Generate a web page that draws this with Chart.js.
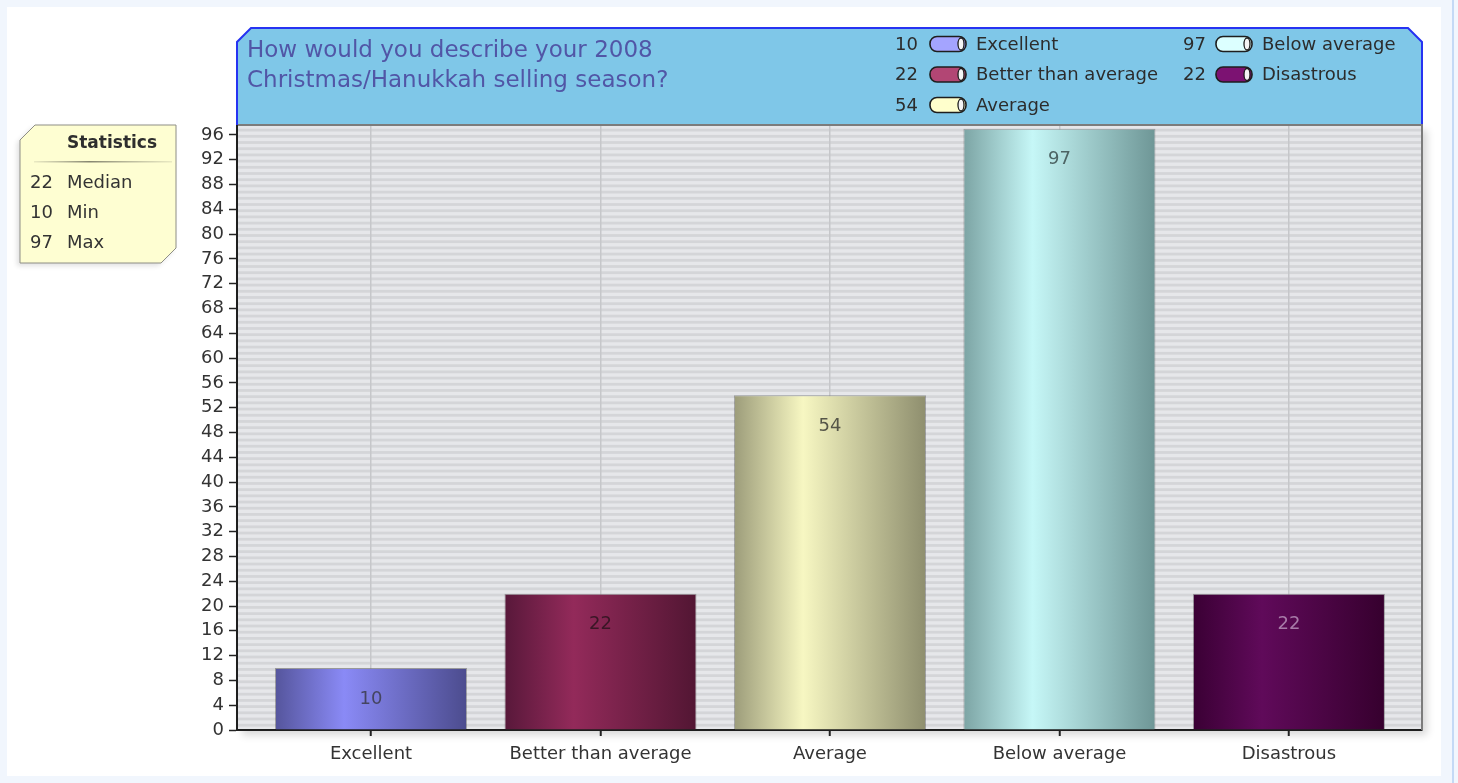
<!DOCTYPE html>
<html>
<head>
<meta charset="utf-8">
<title>2008 holiday selling season</title>
<script src="https://cdn.jsdelivr.net/npm/chart.js@4/dist/chart.umd.min.js"></script>
<style>
  html, body { margin: 0; padding: 0; background: #f1f6fd; }
  #panel { position: absolute; left: 7px; top: 7px; width: 1434px; height: 769px; background: #ffffff; }
  #edge { position: absolute; left: 1452px; top: 0; width: 2px; height: 783px; background: #c4d9f5; }
  #c { position: absolute; left: 0; top: 0; }
</style>
</head>
<body>
<div id="panel"></div>
<div id="edge"></div>
<canvas id="c" width="1458" height="783"></canvas>
<script>
// Survey answers and counts
const categories = ['Excellent', 'Better than average', 'Average', 'Below average', 'Disastrous'];
const responses = [10, 22, 54, 97, 22];
const titleLines = ['How would you describe your 2008', 'Christmas/Hanukkah selling season?'];
const yTicks = [0, 4, 8, 12, 16, 20, 24, 28, 32, 36, 40, 44, 48, 52, 56, 60, 64, 68, 72, 76, 80, 84, 88, 92, 96];
const yMax = 97.6;

// Cylinder shading per bar: [edge, highlight, far edge]
const barShades = [
  ['#55559c', '#8a8af6', '#4c4c8e'],
  ['#58183a', '#932a5a', '#521633'],
  ['#9c9c7a', '#f7f7c2', '#8e8e6e'],
  ['#7ca4a4', '#c6f7f7', '#6e9696'],
  ['#3a0034', '#600a5a', '#36002e']
];
const legendSwatch = ['#a4a4ff', '#b24674', '#ffffcc', '#dcffff', '#7c1272'];
const valueLabelColor = ['#454560', '#3a1626', '#555548', '#4d6464', '#a77aa8'];
const BAR_FRACTION = 0.837;
const FONT = '"DejaVu Sans", Verdana, sans-serif';

function median(arr) {
  const s = [...arr].sort((a, b) => a - b);
  const m = Math.floor(s.length / 2);
  return s.length % 2 ? s[m] : (s[m - 1] + s[m]) / 2;
}

function barGradient(context) {
  const chart = context.chart;
  const shade = barShades[context.dataIndex];
  const xs = chart.scales.x;
  if (!chart.chartArea || !xs) return shade[1];
  const cx = xs.getPixelForValue(context.dataIndex);
  const half = (xs.getPixelForValue(1) - xs.getPixelForValue(0)) * BAR_FRACTION / 2;
  const g = chart.ctx.createLinearGradient(cx - half, 0, cx + half, 0);
  g.addColorStop(0, shade[0]);
  g.addColorStop(0.36, shade[1]);
  g.addColorStop(1, shade[2]);
  return g;
}

function chamferPath(ctx, pts) {
  ctx.beginPath();
  ctx.moveTo(pts[0][0], pts[0][1]);
  for (let i = 1; i < pts.length; i++) ctx.lineTo(pts[i][0], pts[i][1]);
  ctx.closePath();
}

// Striped plot backdrop with a soft drop shadow, and the statistics note
const plotBackdrop = {
  id: 'plotBackdrop',
  beforeDraw(chart) {
    const { ctx, chartArea: a, scales: { y } } = chart;
    ctx.save();
    ctx.shadowColor = 'rgba(0,0,0,0.16)';
    ctx.shadowBlur = 8;
    ctx.shadowOffsetX = 5;
    ctx.shadowOffsetY = 5;
    ctx.fillStyle = '#d4d5d8';
    ctx.fillRect(a.left, a.top, a.width, a.height);
    ctx.restore();

    ctx.save();
    ctx.beginPath();
    ctx.rect(a.left, a.top, a.width, a.height);
    ctx.clip();
    ctx.fillStyle = '#e6e7ea';
    for (let v = 0; v < y.max; v += 1) {
      const lo = y.getPixelForValue(v);
      const hi = y.getPixelForValue(v + 0.55);
      ctx.fillRect(a.left, hi, a.width, lo - hi);
    }
    ctx.restore();

    const bx0 = 20, by0 = 125, bx1 = 176, by1 = 263, c = 15;
    const outline = [[bx0 + c, by0], [bx1, by0], [bx1, by1 - c], [bx1 - c, by1], [bx0, by1], [bx0, by0 + c]];
    ctx.save();
    ctx.shadowColor = 'rgba(0,0,0,0.12)';
    ctx.shadowBlur = 5;
    ctx.shadowOffsetX = -3;
    ctx.shadowOffsetY = 3;
    chamferPath(ctx, outline);
    ctx.fillStyle = '#fefed2';
    ctx.fill();
    ctx.restore();
    ctx.save();
    chamferPath(ctx, outline);
    ctx.strokeStyle = '#8e8e86';
    ctx.lineWidth = 1;
    ctx.stroke();

    ctx.fillStyle = '#2e2e2e';
    ctx.font = 'bold 17px ' + FONT;
    ctx.textBaseline = 'alphabetic';
    ctx.textAlign = 'left';
    ctx.fillText('Statistics', 67, 148);
    const sep = ctx.createLinearGradient(34, 0, 172, 0);
    sep.addColorStop(0, 'rgba(150,150,130,0.2)');
    sep.addColorStop(0.4, 'rgba(120,120,100,0.9)');
    sep.addColorStop(1, 'rgba(150,150,130,0.2)');
    ctx.fillStyle = sep;
    ctx.fillRect(34, 161, 138, 1.5);

    const stats = [[median(responses), 'Median'], [Math.min(...responses), 'Min'], [Math.max(...responses), 'Max']];
    ctx.font = '18px ' + FONT;
    stats.forEach((s, i) => {
      const base = 187.5 + i * 30;
      ctx.fillStyle = '#333333';
      ctx.textAlign = 'right';
      ctx.fillText(String(s[0]), 53, base);
      ctx.textAlign = 'left';
      ctx.fillText(s[1], 67, base);
    });
    ctx.restore();
  }
};

// Values printed inside each bar
const barValues = {
  id: 'barValues',
  afterDatasetsDraw(chart) {
    const { ctx } = chart;
    const meta = chart.getDatasetMeta(0);
    ctx.save();
    ctx.font = '18px ' + FONT;
    ctx.textAlign = 'center';
    ctx.textBaseline = 'middle';
    meta.data.forEach((el, i) => {
      ctx.fillStyle = valueLabelColor[i];
      ctx.fillText(String(responses[i]), el.x, el.y + 31);
    });
    ctx.restore();
  }
};

function drawSwatch(ctx, x, cy, color) {
  const w = 36, h = 15, r = 7;
  ctx.save();
  ctx.beginPath();
  ctx.roundRect(x, cy - h / 2, w, h, r);
  ctx.fillStyle = color;
  ctx.fill();
  ctx.lineWidth = 1.6;
  ctx.strokeStyle = '#1e1e1e';
  ctx.stroke();
  ctx.beginPath();
  ctx.ellipse(x + w - 5, cy, 3, h / 2 - 1.5, 0, 0, Math.PI * 2);
  ctx.fillStyle = '#f4f4f4';
  ctx.fill();
  ctx.lineWidth = 1.3;
  ctx.stroke();
  ctx.restore();
}

// Header band: question text and legend, plus frame lines of the plot
const headerBand = {
  id: 'headerBand',
  afterDraw(chart) {
    const { ctx, chartArea: a } = chart;
    const L = a.left, R = a.right, T = 28, B = a.top, c = 14;
    ctx.save();
    chamferPath(ctx, [[L, B], [L, T + c], [L + c, T], [R - c, T], [R, T + c], [R, B]]);
    ctx.fillStyle = '#7fc7e8';
    ctx.fill();
    ctx.beginPath();
    ctx.moveTo(L, B); ctx.lineTo(L, T + c); ctx.lineTo(L + c, T);
    ctx.lineTo(R - c, T); ctx.lineTo(R, T + c); ctx.lineTo(R, B);
    ctx.strokeStyle = '#2633f2';
    ctx.lineWidth = 2;
    ctx.stroke();

    ctx.fillStyle = '#5156a6';
    ctx.font = '23px ' + FONT;
    ctx.textAlign = 'left';
    ctx.textBaseline = 'alphabetic';
    titleLines.forEach((t, i) => ctx.fillText(t, 247, 56.5 + i * 30));

    ctx.font = '18px ' + FONT;
    const cols = [{ num: 918, sw: 930, txt: 976 }, { num: 1206, sw: 1216, txt: 1262 }];
    categories.forEach((name, i) => {
      const col = cols[i < 3 ? 0 : 1];
      const row = i < 3 ? i : i - 3;
      const cy = 44 + row * 30.5;
      ctx.fillStyle = '#2c2c2c';
      ctx.textAlign = 'right';
      ctx.textBaseline = 'middle';
      ctx.fillText(String(responses[i]), col.num, cy + 1);
      drawSwatch(ctx, col.sw, cy, legendSwatch[i]);
      ctx.fillStyle = '#2c2c2c';
      ctx.textAlign = 'left';
      ctx.fillText(name, col.txt, cy + 1);
    });

    ctx.strokeStyle = '#7c7c7c';
    ctx.lineWidth = 2;
    ctx.beginPath();
    ctx.moveTo(L + 1, B); ctx.lineTo(R, B); ctx.lineTo(R, a.bottom);
    ctx.stroke();
    ctx.restore();
  }
};

const chart = new Chart(document.getElementById('c'), {
  type: 'bar',
  data: {
    datasets: [{
      data: responses.map((v, i) => ({ x: i, y: v })),
      backgroundColor: barGradient,
      borderColor: 'rgba(40,40,40,0.35)',
      borderWidth: 1,
      borderSkipped: 'bottom',
      barPercentage: BAR_FRACTION,
      categoryPercentage: 1
    }]
  },
  options: {
    responsive: false,
    animation: false,
    devicePixelRatio: 1,
    layout: { padding: { top: 125, right: 36, left: 0, bottom: 0 } },
    plugins: { legend: { display: false }, tooltip: { enabled: false }, title: { display: false } },
    scales: {
      x: {
        type: 'linear',
        offset: false,
        min: -0.584,
        max: 4.58,
        afterBuildTicks: (s) => { s.ticks = categories.map((_, i) => ({ value: i })); },
        afterFit: (s) => { s.height = 53; },
        ticks: {
          autoSkip: false,
          maxRotation: 0,
          padding: 8,
          color: '#333333',
          font: { family: FONT, size: 18 },
          callback: (v) => categories[Math.round(v)]
        },
        grid: { offset: false, drawOnChartArea: true, color: '#c6c7ca', lineWidth: 1.5, tickLength: 6, tickColor: '#222222', tickWidth: 2 },
        border: { display: true, color: '#1e1e1e', width: 2 }
      },
      y: {
        min: 0,
        max: yMax,
        afterBuildTicks: (s) => { s.ticks = yTicks.map(v => ({ value: v })); },
        afterFit: (s) => { s.width = 237; },
        ticks: {
          padding: 5,
          color: '#333333',
          font: { family: FONT, size: 18 }
        },
        grid: { drawOnChartArea: false, tickLength: 8, tickColor: '#222222', tickWidth: 1.5 },
        border: { display: true, color: '#1e1e1e', width: 2 }
      }
    }
  },
  plugins: [plotBackdrop, barValues, headerBand]
});
</script>
</body>
</html>
